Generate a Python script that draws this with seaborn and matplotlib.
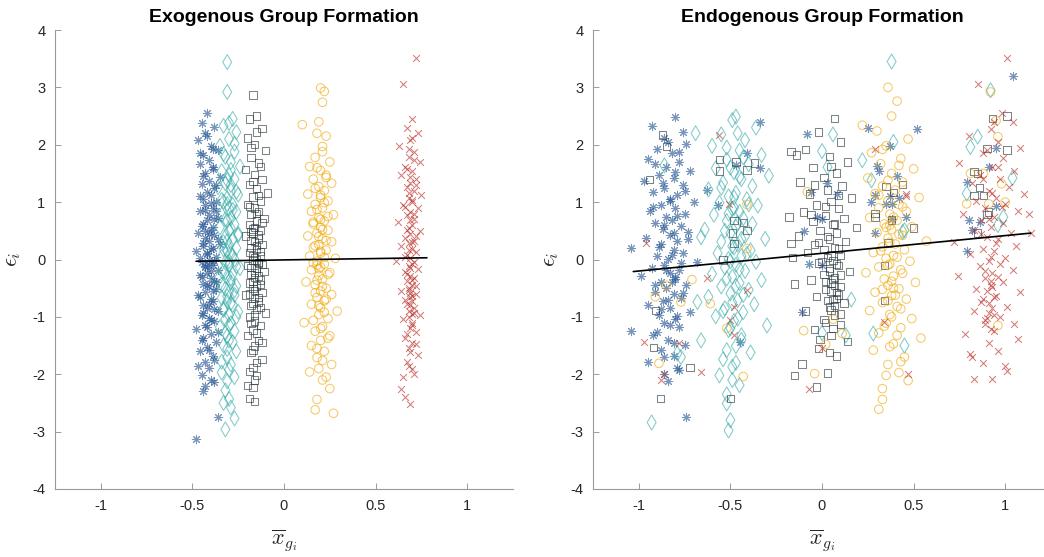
import numpy as np
import pandas as pd
import matplotlib
matplotlib.use("Agg")
import matplotlib.pyplot as plt
import seaborn as sns

# =====================================================
# Residuos vs media del grupo (x_bar_g, epsilon)
# =====================================================

# ---- Exogenous ----
exo_azul = [(-0.42,2.55),(-0.45,2.38),(-0.38,2.31),(-0.43,2.20),(-0.47,2.08),(-0.40,1.97),(-0.36,1.90),(-0.44,1.82),
            (-0.41,1.74),(-0.46,1.66),(-0.39,1.58),(-0.43,1.51),(-0.35,1.44),(-0.41,1.37),(-0.45,1.31),(-0.38,1.25),
            (-0.42,1.18),(-0.40,1.12),(-0.44,1.06),(-0.37,1.00),(-0.43,0.95),(-0.39,0.89),(-0.46,0.84),(-0.41,0.78),
            (-0.36,0.73),(-0.42,0.68),(-0.44,0.62),(-0.39,0.57),(-0.40,0.52),(-0.47,0.47),(-0.38,0.42),(-0.43,0.37),
            (-0.41,0.32),(-0.35,0.27),(-0.44,0.23),(-0.40,0.18),(-0.48,0.14),(-0.42,0.09),(-0.37,0.05),(-0.41,0.00),
            (-0.45,-0.04),(-0.39,-0.09),(-0.43,-0.13),(-0.36,-0.18),(-0.42,-0.23),(-0.46,-0.27),(-0.40,-0.32),(-0.38,-0.37),
            (-0.44,-0.42),(-0.41,-0.47),(-0.37,-0.52),(-0.43,-0.57),(-0.47,-0.62),(-0.40,-0.68),(-0.39,-0.73),(-0.44,-0.79),
            (-0.42,-0.84),(-0.36,-0.90),(-0.45,-0.96),(-0.41,-1.02),(-0.38,-1.08),(-0.43,-1.15),(-0.48,-1.22),(-0.40,-1.29),
            (-0.44,-1.36),(-0.37,-1.44),(-0.42,-1.52),(-0.46,-1.60),(-0.39,-1.69),(-0.43,-1.79),(-0.41,-1.89),(-0.45,-2.01),
            (-0.38,-2.14),(-0.44,-2.30),(-0.36,-2.75),(-0.48,-3.13)]
exo_azul_b = [(-0.39,1.93),(-0.44,1.45),(-0.37,1.29),(-0.46,1.10),(-0.40,0.98),(-0.43,0.86),(-0.38,0.70),(-0.45,0.59),
              (-0.41,0.44),(-0.36,0.36),(-0.44,0.29),(-0.39,0.20),(-0.42,0.12),(-0.46,0.03),(-0.38,-0.02),(-0.43,-0.11),
              (-0.40,-0.20),(-0.45,-0.30),(-0.37,-0.40),(-0.42,-0.45),(-0.39,-0.55),(-0.46,-0.65),(-0.41,-0.77),(-0.38,-0.86),
              (-0.44,-0.93),(-0.40,-1.05),(-0.42,-1.18),(-0.36,-1.26),(-0.45,-1.40),(-0.41,-1.57),(-0.38,-1.75),(-0.47,-1.86),
              (-0.43,-2.20),(-0.40,-2.10),(-0.42,2.15),(-0.46,1.85),(-0.39,1.62),(-0.43,0.50),(-0.37,0.84),(-0.41,-0.10)]
exo_teal = [(-0.31,3.44),(-0.31,2.92),(-0.28,2.45),(-0.33,2.33),(-0.26,2.22),(-0.30,2.10),(-0.35,1.98),(-0.27,1.88),
            (-0.32,1.79),(-0.29,1.70),(-0.24,1.62),(-0.34,1.54),(-0.30,1.47),(-0.27,1.40),(-0.32,1.33),(-0.36,1.26),
            (-0.29,1.20),(-0.25,1.13),(-0.31,1.07),(-0.33,1.01),(-0.28,0.95),(-0.30,0.89),(-0.26,0.83),(-0.34,0.78),
            (-0.29,0.72),(-0.31,0.67),(-0.27,0.61),(-0.35,0.56),(-0.30,0.50),(-0.25,0.45),(-0.32,0.40),(-0.28,0.35),
            (-0.33,0.30),(-0.30,0.25),(-0.26,0.20),(-0.31,0.15),(-0.29,0.10),(-0.34,0.05),(-0.27,0.00),(-0.32,-0.05),
            (-0.30,-0.10),(-0.24,-0.15),(-0.33,-0.20),(-0.28,-0.25),(-0.31,-0.30),(-0.36,-0.35),(-0.29,-0.40),(-0.26,-0.46),
            (-0.32,-0.51),(-0.30,-0.56),(-0.27,-0.62),(-0.34,-0.67),(-0.31,-0.73),(-0.28,-0.79),(-0.33,-0.85),(-0.25,-0.91),
            (-0.30,-0.97),(-0.32,-1.04),(-0.29,-1.11),(-0.35,-1.18),(-0.27,-1.25),(-0.31,-1.33),(-0.30,-1.41),(-0.33,-1.50),
            (-0.26,-1.60),(-0.31,-1.71),(-0.29,-1.83),(-0.34,-1.97),(-0.31,-2.12),(-0.33,-2.50),(-0.29,-2.58),(-0.27,-2.77),
            (-0.32,-2.96)]
exo_teal_b = [(-0.30,2.38),(-0.27,2.02),(-0.33,1.84),(-0.29,1.56),(-0.31,1.38),(-0.26,1.18),(-0.34,1.04),(-0.28,0.86),
              (-0.32,0.70),(-0.29,0.54),(-0.25,0.42),(-0.31,0.32),(-0.33,0.18),(-0.28,0.07),(-0.30,-0.03),(-0.26,-0.12),
              (-0.32,-0.22),(-0.29,-0.33),(-0.34,-0.44),(-0.27,-0.54),(-0.31,-0.64),(-0.29,-0.76),(-0.33,-0.88),(-0.26,-1.00),
              (-0.30,-1.14),(-0.32,-1.28),(-0.28,-1.44),(-0.31,-1.56),(-0.34,-1.78),(-0.30,-1.92),(-0.27,-2.05),(-0.32,-2.28),
              (-0.30,-2.43),(-0.29,1.30),(-0.31,0.97)]
exo_gris = [(-0.17,2.87),(-0.15,2.50),(-0.19,2.45),(-0.12,2.28),(-0.20,2.12),(-0.16,2.01),(-0.10,1.90),(-0.18,1.78),
            (-0.14,1.68),(-0.21,1.57),(-0.16,1.48),(-0.12,1.40),(-0.19,1.31),(-0.15,1.24),(-0.09,1.16),(-0.17,1.09),
            (-0.13,1.02),(-0.20,0.96),(-0.16,0.90),(-0.14,0.84),(-0.18,0.78),(-0.11,0.72),(-0.15,0.67),(-0.19,0.61),
            (-0.16,0.56),(-0.13,0.51),(-0.17,0.46),(-0.21,0.41),(-0.14,0.36),(-0.16,0.31),(-0.12,0.26),(-0.18,0.21),
            (-0.15,0.17),(-0.19,0.12),(-0.13,0.07),(-0.16,0.03),(-0.17,-0.02),(-0.14,-0.06),(-0.20,-0.11),(-0.15,-0.16),
            (-0.11,-0.21),(-0.18,-0.26),(-0.16,-0.31),(-0.13,-0.36),(-0.19,-0.41),(-0.15,-0.46),(-0.17,-0.51),(-0.12,-0.57),
            (-0.21,-0.62),(-0.16,-0.68),(-0.14,-0.74),(-0.18,-0.80),(-0.15,-0.86),(-0.10,-0.93),(-0.19,-1.00),(-0.16,-1.07),
            (-0.13,-1.15),(-0.17,-1.23),(-0.20,-1.32),(-0.14,-1.41),(-0.16,-1.51),(-0.18,-1.62),(-0.12,-1.74),(-0.17,-1.88),
            (-0.15,-2.02),(-0.20,-2.20),(-0.17,-2.23),(-0.19,-2.42),(-0.16,-2.48)]
exo_gris_b = [(-0.15,2.22),(-0.18,1.95),(-0.13,1.62),(-0.17,1.36),(-0.14,1.12),(-0.19,0.92),(-0.15,0.80),(-0.12,0.64),
              (-0.17,0.53),(-0.14,0.43),(-0.18,0.33),(-0.15,0.24),(-0.13,0.14),(-0.17,0.06),(-0.15,-0.01),(-0.12,-0.09),
              (-0.18,-0.14),(-0.16,-0.23),(-0.14,-0.29),(-0.17,-0.38),(-0.13,-0.44),(-0.16,-0.54),(-0.19,-0.60),(-0.14,-0.66),
              (-0.17,-0.77),(-0.13,-0.84),(-0.16,-0.97),(-0.18,-1.12),(-0.15,-1.28),(-0.12,-1.45),(-0.17,-1.58),(-0.15,-1.80),
              (-0.19,-1.95),(-0.16,-2.10),(-0.14,-0.05),(-0.18,0.49)]
exo_amarillo = [(0.20,2.99),(0.22,2.93),(0.21,2.74),(0.10,2.35),(0.18,2.20),(0.23,2.15),(0.21,1.97),(0.17,1.78),
                (0.25,1.70),(0.14,1.62),(0.20,1.55),(0.23,1.47),(0.16,1.40),(0.26,1.33),(0.19,1.27),(0.22,1.20),
                (0.13,1.14),(0.20,1.08),(0.24,1.02),(0.17,0.96),(0.21,0.90),(0.15,0.84),(0.27,0.78),(0.19,0.73),
                (0.22,0.67),(0.16,0.62),(0.20,0.56),(0.24,0.51),(0.18,0.46),(0.13,0.41),(0.21,0.36),(0.26,0.31),
                (0.19,0.26),(0.16,0.21),(0.23,0.16),(0.20,0.11),(0.14,0.06),(0.28,0.02),(0.18,-0.03),(0.22,-0.08),
                (0.20,-0.13),(0.15,-0.18),(0.25,-0.23),(0.19,-0.28),(0.21,-0.34),(0.12,-0.39),(0.17,-0.44),(0.23,-0.50),
                (0.20,-0.55),(0.26,-0.61),(0.18,-0.66),(0.22,-0.72),(0.15,-0.78),(0.20,-0.84),(0.29,-0.90),(0.19,-0.96),
                (0.24,-1.03),(0.11,-1.10),(0.21,-1.17),(0.17,-1.25),(0.25,-1.33),(0.20,-1.41),(0.15,-1.50),(0.22,-1.60),
                (0.18,-1.71),(0.26,-1.83),(0.14,-1.96),(0.21,-2.10),(0.25,-2.25),(0.18,-2.44),(0.17,-2.62),(0.27,-2.68)]
exo_amarillo_b = [(0.19,2.40),(0.21,1.88),(0.18,1.60),(0.23,1.43),(0.17,1.24),(0.20,1.12),(0.22,0.99),(0.18,0.87),
                  (0.24,0.75),(0.16,0.65),(0.21,0.52),(0.19,0.40),(0.23,0.33),(0.17,0.24),(0.20,0.14),(0.22,0.04),
                  (0.16,-0.06),(0.19,-0.16),(0.24,-0.26),(0.18,-0.36),(0.21,-0.47),(0.17,-0.58),(0.23,-0.69),(0.19,-0.80),
                  (0.22,-0.92),(0.16,-1.06),(0.20,-1.20),(0.24,-1.37),(0.18,-1.55),(0.21,-1.76),(0.19,-1.90),(0.23,-2.05),
                  (0.20,0.70),(0.18,-0.10)]
exo_rojo = [(0.72,3.52),(0.65,3.06),(0.70,2.45),(0.67,2.30),(0.73,2.20),(0.69,2.08),(0.63,1.98),(0.71,1.88),
            (0.68,1.79),(0.74,1.70),(0.66,1.62),(0.70,1.54),(0.64,1.47),(0.72,1.40),(0.69,1.33),(0.67,1.26),
            (0.71,1.20),(0.75,1.13),(0.68,1.07),(0.70,1.01),(0.65,0.95),(0.73,0.89),(0.69,0.83),(0.67,0.77),
            (0.71,0.71),(0.62,0.66),(0.70,0.60),(0.68,0.55),(0.74,0.49),(0.69,0.44),(0.66,0.38),(0.71,0.33),
            (0.68,0.28),(0.64,0.23),(0.70,0.18),(0.72,0.13),(0.67,0.08),(0.69,0.03),(0.61,-0.02),(0.70,-0.07),
            (0.68,-0.12),(0.73,-0.17),(0.66,-0.22),(0.69,-0.28),(0.71,-0.33),(0.67,-0.38),(0.70,-0.44),(0.68,-0.49),
            (0.64,-0.55),(0.72,-0.60),(0.69,-0.66),(0.70,-0.72),(0.67,-0.78),(0.71,-0.84),(0.68,-0.90),(0.74,-0.97),
            (0.65,-1.04),(0.70,-1.11),(0.69,-1.19),(0.72,-1.27),(0.66,-1.36),(0.70,-1.45),(0.68,-1.55),(0.73,-1.66),
            (0.67,-1.78),(0.70,-1.91),(0.65,-2.05),(0.64,-2.25),(0.66,-2.40),(0.69,-2.51)]
exo_rojo_b = [(0.70,2.12),(0.68,1.92),(0.71,1.74),(0.67,1.58),(0.69,1.44),(0.72,1.30),(0.68,1.16),(0.70,1.04),
              (0.66,0.92),(0.71,0.80),(0.69,0.68),(0.67,0.52),(0.72,0.41),(0.70,0.30),(0.68,0.16),(0.66,0.05),
              (0.71,-0.05),(0.69,-0.15),(0.67,-0.25),(0.70,-0.36),(0.72,-0.46),(0.68,-0.53),(0.70,-0.63),(0.66,-0.70),
              (0.69,-0.80),(0.71,-0.93),(0.68,-1.00),(0.70,-1.15),(0.67,-1.30),(0.72,-1.48),(0.69,-1.62),(0.68,-1.85),
              (0.71,-2.00),(0.69,-0.58),(0.70,-0.95)]
exo_fit_x = [-0.48, 0.78]
exo_fit_y = [-0.03, 0.03]

# ---- Endogenous ----
endo_azul = [(-0.80,2.49),(-0.93,2.33),(-0.76,2.22),(-0.86,2.12),(-0.74,2.02),(-0.90,1.93),(-0.82,1.85),(-0.95,1.76),
             (-0.78,1.70),(-0.85,1.62),(-0.72,1.55),(-0.89,1.48),(-0.81,1.42),(-0.97,1.36),(-0.76,1.30),(-0.86,1.24),
             (-0.92,1.18),(-0.79,1.12),(-0.83,1.06),(-0.70,1.01),(-0.88,0.95),(-0.80,0.90),(-0.94,0.84),(-0.75,0.79),
             (-0.85,0.74),(-0.82,0.68),(-0.91,0.63),(-0.77,0.58),(-0.87,0.53),(-0.73,0.48),(-0.83,0.42),(-0.96,0.37),
             (-0.79,0.32),(-0.88,0.27),(-1.04,0.20),(-0.81,0.16),(-0.76,0.11),(-0.90,0.06),(-0.84,0.01),(-0.68,-0.04),
             (-0.86,-0.09),(-0.93,-0.14),(-0.78,-0.19),(-0.83,-0.24),(-0.99,-0.29),(-0.80,-0.34),(-0.88,-0.40),(-0.74,-0.45),
             (-0.85,-0.50),(-0.91,-0.56),(-0.81,-0.61),(-0.77,-0.67),(-0.87,-0.73),(-0.95,-0.79),(-0.83,-0.85),(-0.72,-0.91),
             (-0.89,-0.97),(-0.80,-1.03),(-0.86,-1.10),(-1.04,-1.25),(-0.78,-1.18),(-0.92,-1.32),(-0.84,-1.40),(-0.75,-1.49),
             (-0.88,-1.58),(-0.81,-1.68),(-0.95,-1.78),(-0.79,-1.89),(-0.86,-2.00),(-0.84,-2.12),(-0.74,-2.75),
             (-0.34,2.40),(-0.08,2.18),(0.25,2.30),(0.52,2.27),(0.37,1.97),(1.04,3.20),(0.95,1.94),(0.91,1.61),
             (0.79,1.35),(0.95,0.93),(0.80,0.68),(0.82,0.51),(0.79,0.15),(0.86,0.65),(0.30,1.63),(0.31,1.55),
             (0.41,1.45),(0.29,1.12),(0.37,1.10),(0.42,1.08),(0.27,1.00),(0.35,0.96),(0.38,0.96),(0.46,0.74),
             (0.38,0.70),(0.29,0.46),(0.03,1.34),(0.08,1.14),(-0.06,1.17),(-0.03,0.74),(0.00,0.70),(-0.10,0.50),
             (-0.07,-0.07),(0.00,-0.10),(-0.11,-0.92),(-0.47,1.64),(-0.41,1.85),(-0.57,0.95),(-0.45,-1.44),(-0.34,1.59),
             (-0.63,1.21)]
endo_azul_b = [(-0.84,2.05),(-0.78,1.88),(-0.91,1.66),(-0.80,1.52),(-0.87,1.34),(-0.75,1.20),(-0.83,1.02),(-0.92,0.92),
               (-0.79,0.76),(-0.86,0.60),(-0.81,0.46),(-0.73,0.35),(-0.89,0.22),(-0.82,0.08),(-0.77,-0.06),(-0.85,-0.18),
               (-0.80,-0.30),(-0.91,-0.44),(-0.76,-0.58),(-0.84,-0.70),(-0.88,-0.86),(-0.79,-0.99),(-0.83,-1.14),(-0.90,-1.26),
               (-0.81,-1.46),(-0.86,-1.70),(-0.78,-1.92),(-0.82,-0.40)]
endo_teal = [(-0.47,2.49),(-0.49,2.43),(-0.36,2.30),(-0.55,2.18),(-0.42,2.08),(-0.60,1.98),(-0.45,1.90),(-0.33,1.82),
             (-0.52,1.74),(-0.40,1.66),(-0.58,1.59),(-0.48,1.52),(-0.29,1.46),(-0.44,1.40),(-0.54,1.34),(-0.38,1.28),
             (-0.62,1.22),(-0.47,1.16),(-0.51,1.10),(-0.41,1.05),(-0.56,0.99),(-0.35,0.94),(-0.49,0.88),(-0.45,0.83),
             (-0.59,0.78),(-0.43,0.72),(-0.52,0.67),(-0.38,0.62),(-0.47,0.57),(-0.64,0.52),(-0.50,0.46),(-0.42,0.41),
             (-0.31,0.36),(-0.55,0.31),(-0.46,0.26),(-0.48,0.21),(-0.39,0.16),(-0.57,0.11),(-0.44,0.06),(-0.51,0.01),
             (-0.36,-0.04),(-0.47,-0.09),(-0.53,-0.14),(-0.42,-0.20),(-0.60,-0.25),(-0.49,-0.30),(-0.33,-0.36),(-0.45,-0.41),
             (-0.55,-0.47),(-0.40,-0.53),(-0.50,-0.59),(-0.62,-0.65),(-0.46,-0.71),(-0.37,-0.78),(-0.53,-0.85),(-0.43,-0.92),
             (-0.58,-0.99),(-0.48,-1.07),(-0.30,-1.15),(-0.51,-1.23),(-0.44,-1.32),(-0.66,-1.41),(-0.47,-1.51),(-0.39,-1.62),
             (-0.54,-1.74),(-0.49,-1.87),(-0.56,-2.02),(-0.45,-2.19),(-0.52,-2.35),(-0.52,-2.51),(-0.50,-2.80),(-0.51,-2.98),
             (0.38,3.45),(0.92,2.95),(0.06,2.18),(0.00,1.89),(0.39,2.05),(0.22,1.73),(0.03,1.61),(0.85,2.14),
             (0.81,1.96),(1.04,1.42),(0.79,1.15),(0.96,0.60),(0.99,0.74),(0.45,-1.50),(0.28,-1.29),(0.16,-0.70),
             (0.13,-1.32),(0.00,-1.28),(0.27,1.38),(0.44,0.48),(0.45,0.51),(-0.86,1.64),(-0.69,2.20),(-0.79,-1.64),
             (-0.77,-1.70),(-0.68,-0.74),(-0.66,0.39),(-0.93,-2.84)]
endo_teal_b = [(-0.46,2.20),(-0.52,1.95),(-0.43,1.78),(-0.50,1.60),(-0.45,1.44),(-0.55,1.25),(-0.48,1.08),(-0.40,0.96),
               (-0.51,0.80),(-0.46,0.64),(-0.53,0.50),(-0.44,0.36),(-0.49,0.23),(-0.41,0.10),(-0.50,-0.03),(-0.45,-0.17),
               (-0.52,-0.33),(-0.47,-0.46),(-0.43,-0.62),(-0.49,-0.75),(-0.54,-0.90),(-0.46,-1.03),(-0.50,-1.20),(-0.44,-1.40),
               (-0.52,-1.58),(-0.47,-1.80),(-0.49,-2.10),(-0.48,0.90)]
endo_gris = [(0.07,2.46),(-0.02,2.22),(0.10,2.05),(-0.09,1.92),(0.04,1.80),(0.14,1.70),(-0.05,1.60),(0.08,1.51),
             (0.01,1.43),(-0.12,1.35),(0.11,1.28),(0.03,1.21),(-0.07,1.14),(0.16,1.07),(0.05,1.01),(-0.03,0.95),
             (0.09,0.89),(-0.10,0.83),(0.02,0.77),(0.12,0.72),(-0.05,0.66),(0.06,0.61),(0.19,0.56),(-0.01,0.51),
             (0.08,0.46),(-0.13,0.41),(0.04,0.36),(0.13,0.31),(-0.04,0.26),(0.07,0.21),(0.01,0.17),(-0.08,0.12),
             (0.10,0.07),(0.03,0.03),(0.06,-0.02),(-0.02,-0.06),(0.09,-0.11),(0.04,-0.16),(0.15,-0.21),(0.01,-0.26),
             (0.07,-0.31),(-0.06,-0.36),(0.05,-0.41),(0.10,-0.47),(0.02,-0.52),(0.08,-0.58),(-0.03,-0.64),(0.06,-0.70),
             (0.12,-0.76),(0.04,-0.83),(-0.09,-0.90),(0.07,-0.97),(0.01,-1.05),(0.10,-1.13),(-0.04,-1.22),(0.05,-1.32),
             (0.14,-1.43),(-0.02,-1.55),(0.08,-1.68),(-0.11,-1.82),(0.03,-1.98),(-0.15,-2.02),(-0.03,-2.22),
             (-0.87,2.17),(-0.85,1.97),(-0.94,1.39),(-0.56,1.74),(-0.56,1.54),(-0.47,1.70),(-0.37,1.68),(-0.41,1.56),
             (-0.48,0.68),(-0.43,0.64),(-0.41,0.51),(-0.49,0.46),(-0.48,0.28),(-0.54,-0.01),(-0.91,-0.89),(-0.92,-1.53),
             (-0.88,-2.42),(-0.72,-1.88),(-0.50,-2.42),(-0.17,1.88),(-0.14,1.82),(-0.18,0.74),(-0.17,0.28),(-0.16,0.04),
             (-0.15,-0.43),(0.35,1.27),(0.44,1.31),(0.39,1.17),(0.29,0.80),(0.29,0.74),(0.38,0.69),(0.50,0.55),
             (0.36,0.29),(0.34,-0.11),(0.34,-0.71),(0.93,2.46),(1.01,2.50),(0.90,1.94),(1.01,1.91),(0.83,1.53),
             (0.85,1.50),(0.86,1.25),(0.83,1.12),(0.88,1.11),(0.91,0.83),(0.90,0.78),(0.85,0.46)]
endo_gris_b = [(0.05,1.62),(-0.04,1.30),(0.09,1.12),(0.02,0.92),(-0.06,0.78),(0.07,0.62),(0.03,0.40),(-0.02,0.30),
               (0.09,0.18),(0.05,0.08),(0.00,-0.03),(0.08,-0.08),(0.04,-0.20),(0.10,-0.27),(0.02,-0.38),(0.07,-0.45),
               (0.05,-0.55),(0.09,-0.62),(0.03,-0.72),(0.07,-0.80),(0.05,-0.88),(0.10,-0.95),(0.02,-1.10),(0.06,-1.20),
               (-0.01,-1.40),(0.04,-1.62),(0.06,-0.35),(0.08,-0.68)]
endo_amarillo = [(0.36,3.00),(0.41,2.76),(0.22,2.34),(0.30,2.24),(0.47,2.10),(0.35,1.98),(0.27,1.86),(0.43,1.76),
                 (0.32,1.67),(0.50,1.58),(0.38,1.50),(0.25,1.42),(0.44,1.35),(0.33,1.28),(0.40,1.21),(0.29,1.15),
                 (0.53,1.08),(0.36,1.02),(0.42,0.96),(0.31,0.90),(0.46,0.84),(0.37,0.79),(0.26,0.73),(0.41,0.68),
                 (0.34,0.62),(0.49,0.57),(0.38,0.52),(0.30,0.47),(0.44,0.42),(0.36,0.37),(0.57,0.32),(0.40,0.27),
                 (0.33,0.22),(0.45,0.17),(0.28,0.12),(0.39,0.07),(0.35,0.02),(0.48,-0.03),(0.37,-0.08),(0.31,-0.13),
                 (0.43,-0.18),(0.24,-0.23),(0.39,-0.29),(0.34,-0.34),(0.51,-0.40),(0.36,-0.45),(0.42,-0.51),(0.29,-0.57),
                 (0.38,-0.63),(0.46,-0.69),(0.33,-0.75),(0.41,-0.82),(0.26,-0.89),(0.37,-0.96),(0.49,-1.03),(0.35,-1.11),
                 (0.43,-1.19),(0.31,-1.28),(0.54,-1.37),(0.39,-1.47),(0.28,-1.58),(0.45,-1.70),(0.36,-1.83),(0.42,-1.97),
                 (0.47,-2.11),(0.33,-2.25),(0.33,-2.44),(0.31,-2.61),
                 (-0.41,0.96),(-0.61,-0.77),(-0.43,-2.04),(-0.52,-1.20),(-0.71,-0.35),(-0.85,-0.45),(-0.91,-0.65),(-0.89,-1.81),
                 (-0.77,-0.74),(-0.41,0.19),(-0.08,1.18),(-0.10,-1.24),(0.06,-1.04),(0.11,-1.29),(0.02,-1.48),(-0.04,-1.99),
                 (0.92,2.92),(0.95,2.42),(0.96,2.14),(0.88,1.50),(0.98,1.32),(1.00,1.00),(0.79,0.97),(0.81,1.50),
                 (0.91,0.97),(0.96,-1.15)]
endo_amarillo_b = [(0.38,2.50),(0.33,1.92),(0.42,1.64),(0.36,1.38),(0.31,1.12),(0.44,0.92),(0.39,0.74),(0.35,0.56),
                   (0.42,0.44),(0.37,0.30),(0.32,0.15),(0.41,0.04),(0.36,-0.10),(0.44,-0.24),(0.38,-0.38),(0.33,-0.52),
                   (0.40,-0.62),(0.36,-0.72),(0.43,-0.86),(0.38,-1.00),(0.34,-1.16),(0.41,-1.32),(0.37,-1.52),(0.43,-1.78),
                   (0.35,-2.02),(0.39,-0.50),(0.37,0.60)]
endo_rojo = [(1.01,3.52),(0.85,3.06),(0.98,2.55),(1.04,2.40),(0.92,2.28),(0.80,2.16),(0.96,2.05),(1.08,1.95),
             (0.88,1.86),(0.99,1.77),(0.75,1.69),(0.93,1.61),(1.05,1.54),(0.86,1.47),(0.97,1.40),(0.82,1.33),
             (1.02,1.27),(0.91,1.20),(1.10,1.14),(0.95,1.08),(0.84,1.02),(1.00,0.96),(0.89,0.90),(1.07,0.85),
             (0.77,0.80),(0.94,0.74),(1.13,0.80),(0.87,0.68),(0.99,0.63),(0.92,0.57),(1.14,0.47),(0.83,0.52),
             (1.03,0.46),(0.90,0.40),(0.96,0.35),(0.72,0.30),(1.06,0.24),(0.88,0.19),(0.94,0.14),(0.81,0.09),
             (1.00,0.03),(0.91,-0.02),(0.97,-0.07),(0.86,-0.12),(1.04,-0.18),(0.93,-0.23),(0.74,-0.28),(0.89,-0.33),
             (0.99,-0.39),(0.92,-0.45),(0.84,-0.51),(1.08,-0.57),(0.95,-0.63),(0.88,-0.69),(0.91,-0.76),(1.01,-0.83),
             (0.83,-0.90),(0.94,-0.97),(0.89,-1.05),(1.05,-1.13),(0.92,-1.21),(0.78,-1.30),(1.07,-1.39),(0.81,-1.64),
             (0.82,-1.70),(1.00,-1.86),(1.01,-1.95),(0.83,-2.09),(0.93,-2.08),
             (-0.56,2.17),(-0.96,0.28),(-0.97,-1.44),(-0.88,-2.10),(-0.86,-1.99),(-0.66,-1.96),(-0.78,-1.46),(-0.63,-0.33),
             (-0.51,0.96),(-0.41,-0.54),(-0.48,-0.83),(-0.50,-1.06),(-0.48,-1.32),(0.29,1.92),(-0.07,-2.25),(0.47,-1.99),
             (0.00,-1.55),(0.34,-1.09),(0.46,1.14),(0.46,1.10)]
endo_rojo_b = [(0.94,2.40),(0.90,1.90),(0.96,1.62),(0.88,1.40),(0.93,1.16),(0.98,0.92),(0.91,0.70),(0.87,0.44),
               (0.95,0.28),(0.92,0.05),(0.89,-0.20),(0.96,-0.30),(0.92,-0.38),(0.90,-0.55),(0.94,-0.66),(0.87,-0.74),
               (0.93,-0.85),(0.91,-0.94),(0.97,-1.00),(0.89,-1.12),(0.94,-1.25),(0.91,-1.45),(0.96,-1.60),(0.88,-1.80),
               (0.93,-0.48),(0.90,-1.02)]
endo_fit_x = [-1.03, 1.14]
endo_fit_y = [-0.21, 0.46]

xticks = [-1, -0.5, 0, 0.5, 1]
xticklabels = ["-1", "-0.5", "0", "0.5", "1"]
yticks = [-4, -3, -2, -1, 0, 1, 2, 3, 4]
yticklabels = ["-4", "-3", "-2", "-1", "0", "1", "2", "3", "4"]

# marcador, color, tamano, hueco
estilos = [
    ((8, 2, 0), "#1d4f8f", 36, False),
    ("d", "#2fa8a6", 58, True),
    ("s", "#27343a", 28, True),
    ("o", "#f0a500", 38, True),
    ("x", "#b5261e", 24, False),
]

sns.set_theme(style="ticks")
plt.rcParams["font.family"] = ["Liberation Sans", "DejaVu Sans"]
plt.rcParams["mathtext.fontset"] = "cm"

fig = plt.figure(figsize=(10.44, 5.57), dpi=100)
ax1 = fig.add_axes([55 / 1044, 68 / 557, 458 / 1044, 459 / 557])
ax2 = fig.add_axes([593 / 1044, 68 / 557, 458 / 1044, 459 / 557])


def dibujar(ax, grupos, fit_x, fit_y, titulo):
    for puntos, (marker, color, size, hueco) in zip(grupos, estilos):
        df = pd.DataFrame(puntos, columns=["xbar", "eps"])
        if hueco:
            sns.scatterplot(data=df, x="xbar", y="eps", marker=marker, s=size, color=color,
                            facecolor="none", edgecolor=color, linewidth=0.75, alpha=0.6, ax=ax)
        else:
            sns.scatterplot(data=df, x="xbar", y="eps", marker=marker, s=size, color=color,
                            linewidth=0.75, alpha=0.6, ax=ax)
    sns.lineplot(x=fit_x, y=fit_y, color="black", linewidth=1.2, ax=ax)

    ax.set_xlim(-1.25, 1.25)
    ax.set_ylim(-4, 4)
    ax.set_xticks(xticks)
    ax.set_xticklabels(xticklabels)
    ax.set_yticks(yticks)
    ax.set_yticklabels(yticklabels)
    sns.despine(ax=ax)
    for lado in ["left", "bottom"]:
        ax.spines[lado].set_color("#9a9a9a")
        ax.spines[lado].set_linewidth(0.8)
    ax.tick_params(direction="in", length=4, width=0.7, color="#9a9a9a",
                   labelsize=10.5, labelcolor="#262626", pad=7)
    ax.set_title(titulo, fontsize=14, fontweight="bold", color="black", pad=6)
    ax.set_xlabel(r"$\overline{x}_{g_i}$", fontsize=16, color="#262626")
    ax.set_ylabel(r"$\epsilon_i$", fontsize=16, color="#262626", rotation=90)
    ax.xaxis.set_label_coords(0.5, -0.085)
    ax.yaxis.set_label_coords(-0.07, 0.5)


dibujar(ax1, [exo_azul + exo_azul_b, exo_teal + exo_teal_b, exo_gris + exo_gris_b,
              exo_amarillo + exo_amarillo_b, exo_rojo + exo_rojo_b],
        exo_fit_x, exo_fit_y, "Exogenous Group Formation")
dibujar(ax2, [endo_azul + endo_azul_b, endo_teal + endo_teal_b, endo_gris + endo_gris_b,
              endo_amarillo + endo_amarillo_b, endo_rojo + endo_rojo_b],
        endo_fit_x, endo_fit_y, "Endogenous Group Formation")

plt.savefig("out.png", dpi=100)
plt.close()
